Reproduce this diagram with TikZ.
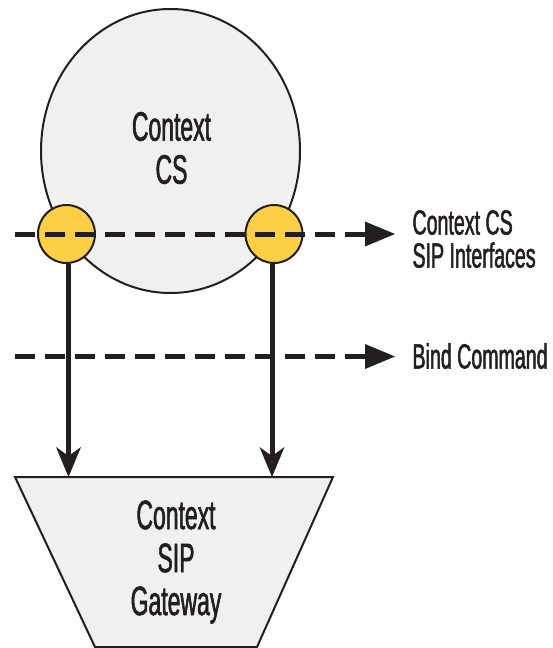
\documentclass[tikz,border=0pt]{standalone}
\usepackage{fontspec}
\setmainfont{Liberation Sans}[FakeStretch=0.56,FakeBold=1.4]
\usetikzlibrary{arrows.meta,shapes.geometric}
\definecolor{ink}{HTML}{231F20}
\definecolor{lightfill}{HTML}{F0F0F0}
\definecolor{ifyellow}{HTML}{FCCF45}
\tikzset{
  bigbox/.style={ellipse, draw=ink, line width=2pt, fill=lightfill,
    minimum width=259pt, minimum height=284pt, inner sep=0pt},
  ifdot/.style={ellipse, draw=ink, line width=2pt, fill=ifyellow,
    minimum width=57pt, minimum height=58pt, inner sep=0pt},
  dashline/.style={draw=ink, line width=5pt, dash pattern=on 19.5pt off 10.5pt,
    -{Triangle[length=30pt,width=25pt,line width=0pt]}},
  bindarrow/.style={draw=ink, line width=5pt,
    -{Stealth[length=30pt,width=25pt,inset=9pt,line width=0pt]}},
  gwshape/.style={draw=ink, line width=2pt, fill=lightfill},
  bigtext/.style={font=\fontsize{41}{43}\selectfont, align=center, text=ink},
  sidetext/.style={font=\fontsize{35}{33}\selectfont, align=left, anchor=west, text=ink},
}
\begin{document}
\begin{tikzpicture}[x=1pt,y=-1pt]
\useasboundingbox (0,0) rectangle (553,648);
% Context CS
\node[bigbox] (cs) at (170.5,151) {};
\node[bigtext] (cstext) at (171.5,148) {Context\\CS};
% SIP interfaces
\node[ifdot] (if1) at (66.5,234) {};
\node[ifdot] (if2) at (274,234) {};
% gateway trapezoid
\coordinate (gtl) at (15,477);
\coordinate (gtr) at (333,477);
\coordinate (gbr) at (257,647);
\coordinate (gbl) at (95,647);
\path[gwshape] (gtl) -- (gtr) -- (gbr) -- (gbl) -- cycle;
\node[bigtext] (gwtext) at (176,562) {Context\\SIP\\Gateway};
% dashed lines
\coordinate (d1s) at (15,234);
\coordinate (d1e) at (395,234);
\coordinate (d2s) at (15,356.5);
\coordinate (d2e) at (395,356.5);
\draw[dashline] (d1s) -- (d1e);
\draw[dashline] (d2s) -- (d2e);
\node[sidetext] (lab1) at (409,239) {Context CS\\SIP Interfaces};
\node[sidetext] (lab2) at (409,356) {Bind Command};
% bind arrows
\coordinate (a1e) at (68.5,477);
\coordinate (a2e) at (272,477);
\draw[bindarrow] (if1.south -| a1e) -- (a1e);
\draw[bindarrow] (if2.south -| a2e) -- (a2e);
\end{tikzpicture}
\end{document}
